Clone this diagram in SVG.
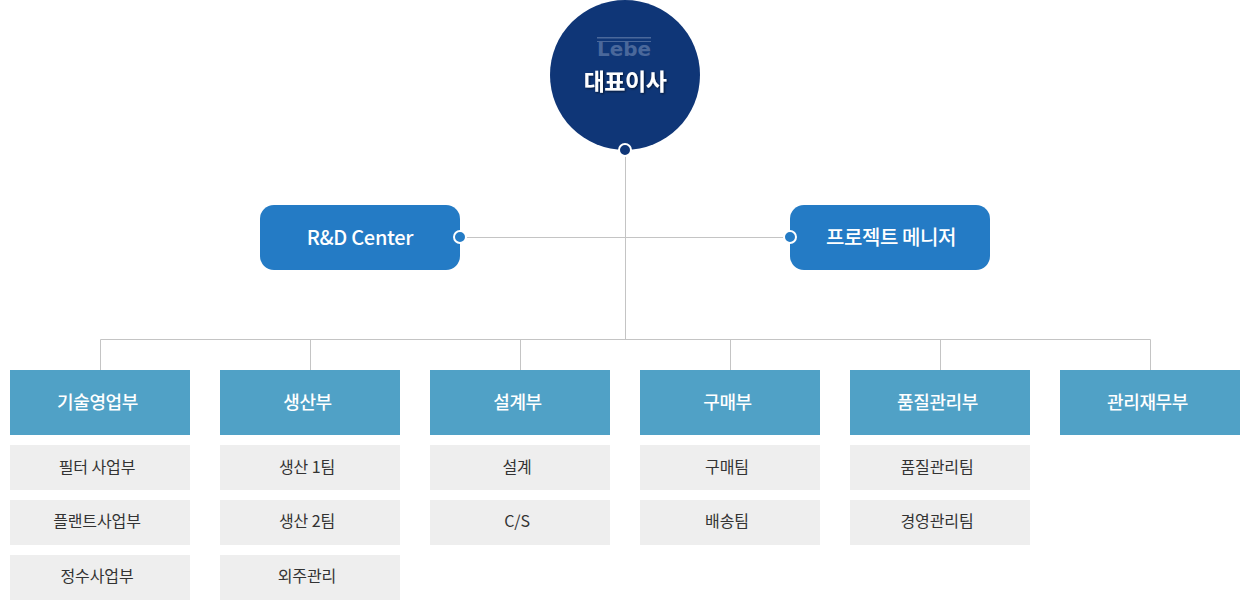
<svg xmlns="http://www.w3.org/2000/svg" width="1250" height="610" viewBox="0 0 1250 610">
<defs>
<filter id="sh" x="-20%" y="-20%" width="140%" height="140%"><feDropShadow dx="1" dy="1" stdDeviation="0.8" flood-color="#000" flood-opacity="0.6"/></filter>
</defs>
<style>
text{font-family:"Noto Sans CJK KR","Noto Sans",sans-serif;text-anchor:middle}
.c{fill:none;stroke:#c4c4c4;stroke-width:1}
.mid{fill:#247bc5}
.dept{fill:#50a1c6}
.sub{fill:#eeeeee}
.dot{stroke:#fff;stroke-width:2}
.t1{font-size:20px;font-weight:500;fill:#fff;letter-spacing:-0.4px}
.t2{font-size:18px;font-weight:500;fill:#fff;letter-spacing:-0.4px}
.t3{font-size:16px;font-weight:400;fill:#333;letter-spacing:-0.1px}
</style>
<g id="connectors">
<path class="c" d="M625.500 150V339.500M460 237.500H790M100.500 370V339.500H1150.500V370M310.500 339.500V370M520.500 339.500V370M730.500 339.500V370M940.500 339.500V370"/>
</g>
<g id="ceo">
<circle cx="625" cy="75" r="75" fill="#0f3677"/>
<g fill="#4a689b">
<rect x="597" y="37" width="54" height="1.500"/><rect x="597" y="41" width="54" height="1"/>
</g>
<text x="624" y="56" style="font-family:'DejaVu Sans',sans-serif;font-size:20px;font-weight:700;fill:#4a689b" textLength="54" lengthAdjust="spacingAndGlyphs">Lebe</text>
<text x="625" y="90" class="t1" style="font-size:23px;font-weight:700;letter-spacing:-0.5px" filter="url(#sh)">대표이사</text>
<circle class="dot" cx="625" cy="150" r="6" fill="#0f3677"/>
</g>
<g id="rd">
<rect class="mid" x="260" y="205" width="200" height="65" rx="14"/>
<text x="360" y="245" class="t1" style="letter-spacing:-0.3px">R&amp;D Center</text>
<circle class="dot" cx="460" cy="237" r="6" fill="#247bc5"/>
</g>
<g id="pm">
<rect class="mid" x="790" y="205" width="200" height="65" rx="14"/>
<text x="891" y="245" class="t1">프로젝트 메니저</text>
<circle class="dot" cx="790" cy="237" r="6" fill="#247bc5"/>
</g>
<g id="d1"><rect class="dept" x="10" y="370" width="180" height="65"/><text x="97.500" y="409" class="t2">기술영업부</text></g>
<g id="d2"><rect class="dept" x="220" y="370" width="180" height="65"/><text x="307.500" y="409" class="t2">생산부</text></g>
<g id="d3"><rect class="dept" x="430" y="370" width="180" height="65"/><text x="517.500" y="409" class="t2">설계부</text></g>
<g id="d4"><rect class="dept" x="640" y="370" width="180" height="65"/><text x="727.500" y="409" class="t2">구매부</text></g>
<g id="d5"><rect class="dept" x="850" y="370" width="180" height="65"/><text x="937.500" y="409" class="t2">품질관리부</text></g>
<g id="d6"><rect class="dept" x="1060" y="370" width="180" height="65"/><text x="1147.500" y="409" class="t2">관리재무부</text></g>
<g id="s11"><rect class="sub" x="10" y="445" width="180" height="45"/><text x="97" y="473" class="t3">필터 사업부</text></g>
<g id="s12"><rect class="sub" x="10" y="500" width="180" height="45"/><text x="97" y="527" class="t3">플랜트사업부</text></g>
<g id="s13"><rect class="sub" x="10" y="555" width="180" height="45"/><text x="97" y="582" class="t3">정수사업부</text></g>
<g id="s21"><rect class="sub" x="220" y="445" width="180" height="45"/><text x="307" y="473" class="t3">생산 1팀</text></g>
<g id="s22"><rect class="sub" x="220" y="500" width="180" height="45"/><text x="307" y="527" class="t3">생산 2팀</text></g>
<g id="s23"><rect class="sub" x="220" y="555" width="180" height="45"/><text x="307" y="582" class="t3">외주관리</text></g>
<g id="s31"><rect class="sub" x="430" y="445" width="180" height="45"/><text x="517" y="473" class="t3">설계</text></g>
<g id="s32"><rect class="sub" x="430" y="500" width="180" height="45"/><text x="517" y="527" class="t3">C/S</text></g>
<g id="s41"><rect class="sub" x="640" y="445" width="180" height="45"/><text x="727" y="473" class="t3">구매팀</text></g>
<g id="s42"><rect class="sub" x="640" y="500" width="180" height="45"/><text x="727" y="527" class="t3">배송팀</text></g>
<g id="s51"><rect class="sub" x="850" y="445" width="180" height="45"/><text x="937" y="473" class="t3">품질관리팀</text></g>
<g id="s52"><rect class="sub" x="850" y="500" width="180" height="45"/><text x="937" y="527" class="t3">경영관리팀</text></g>
</svg>
